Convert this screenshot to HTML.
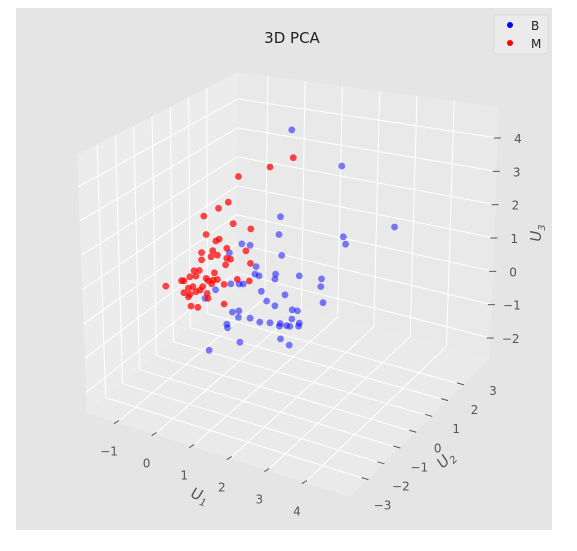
<!DOCTYPE html>
<html><head><meta charset="utf-8"><style>
body{margin:0;background:#fff;}
svg{display:block;font-family:"DejaVu Sans","Liberation Sans",sans-serif;}
</style></head><body>
<svg id="chart" width="577" height="551" viewBox="0 0 577 551">
<rect x="16" y="8" width="536" height="522" fill="#e5e5e5"/>
<g id="panes"></g><g id="grid"></g><g id="ticks"></g><g id="pts"></g>
<text x="292" y="43" text-anchor="middle" font-size="15" fill="#222">3D PCA</text>
<g>
<rect x="494" y="15" width="54" height="39" rx="2" fill="#ebebeb" stroke="#d9d9d9"/>
<circle cx="510" cy="25" r="3" fill="#0000ff"/>
<text x="531" y="30" font-size="12" fill="#222">B</text>
<circle cx="510" cy="43" r="3" fill="#ff0000"/>
<text x="531" y="48" font-size="12" fill="#222">M</text>
</g>
<text transform="translate(198,500) rotate(20)" text-anchor="middle" font-size="15" font-style="italic" fill="#555">U<tspan font-size="10" dy="4">1</tspan></text>
<text transform="translate(449,463) rotate(-45)" text-anchor="middle" font-size="15" font-style="italic" fill="#555">U<tspan font-size="10" dy="4">2</tspan></text>
<text transform="translate(541,233) rotate(-90)" text-anchor="middle" font-size="15" font-style="italic" fill="#555">U<tspan font-size="10" dy="4">3</tspan></text>
</svg>
<script>
const u1Ticks=[-1,0,1,2,3,4];
const u2Ticks=[-3,-2,-1,0,1,2,3];
const u3Ticks=[-2,-1,0,1,2,3,4];
const bU1=[1.83,3.16,4.56,3.20,3.26,1.53,1.49,1.56,0.50,0.72,0.17,0.88,0.85,0.96,1.38,2.03,2.62,2.60,2.66,1.40,1.02,1.65,1.16,1.38,1.84,1.98,1.83,2.03,1.52,1.50,1.69,1.78,2.01,1.25,0.98,0.72,0.41,0.42,0.25,0.10,0.12,0.45,-0.37,1.53,1.76,-0.48,0.21,0.43,0.54,-0.20];
const bU2=bU1.map(()=>0);
const bU3=[5.31,4.72,3.41,2.61,2.41,2.59,2.04,1.44,1.39,1.43,1.00,0.85,0.61,0.60,0.66,1.00,1.13,0.89,0.43,0.82,0.16,0.29,-0.08,-0.14,-0.09,-0.07,-0.37,-0.42,-0.62,-0.71,-0.62,-0.61,-0.52,-0.70,-0.78,-0.76,-0.85,-0.65,-0.75,-1.17,-1.27,-1.58,-2.13,-1.08,-1.18,-0.61,0.08,0.16,0.20,-0.25];
const mU1=[1.25,1.87,0.41,0.14,-0.12,-0.51,0.27,0.74,-0.45,-0.19,-0.10,0.61,0.10,-0.57,-0.27,-0.15,-0.32,-0.57,0.10,0.20,0.07,0.73,-0.63,-0.77,-0.88,-0.72,-0.23,-0.45,-0.39,-0.26,-0.15,-0.30,0.03,0.38,0.70,-1.52,-1.10,-1.04,-0.92,-1.04,-0.88,-0.72,-0.61,-0.54,-0.42,-0.40,-0.85,-0.67,0.03,-0.92,-0.80];
const mU2=mU1.map(()=>0);
const mU3=[3.98,4.49,3.38,2.51,2.23,1.85,1.91,1.93,1.32,1.22,1.31,1.22,1.11,0.73,0.90,0.81,0.70,0.51,0.81,0.82,0.60,0.89,0.17,0.11,-0.11,-0.03,0.25,0.00,-0.05,0.02,0.08,-0.11,0.00,0.28,0.35,-0.63,-0.31,-0.29,-0.47,-0.65,-0.64,-0.50,-0.41,-0.28,-0.44,-0.58,-0.98,-0.95,-0.59,-0.73,-0.38];

const R1=[-1.8,5.2],R2=[-4.1,4.7],R3=[-2.6,4.93];
const A0=[87,413],B0=[350,497],C0=[490,358],D0=[236,290];
const A1=[77,155],B1=[352,240],C1=[499,107],D1=[238,72];
const NS='http://www.w3.org/2000/svg';
function lerp(p,q,t){return [p[0]+(q[0]-p[0])*t,p[1]+(q[1]-p[1])*t];}
function proj(u1,u2,u3){
  const a=(u1-R1[0])/(R1[1]-R1[0]),b=(u2-R2[0])/(R2[1]-R2[0]),c=(u3-R3[0])/(R3[1]-R3[0]);
  const bot=lerp(lerp(A0,B0,a),lerp(D0,C0,a),b);
  const top=lerp(lerp(A1,B1,a),lerp(D1,C1,a),b);
  return lerp(bot,top,c);
}
function projPt(u1,u2,u3){return [223+37.6*u1+15.8*u2, 284+12.4*u1-15.8*u2-33.3*u3];}
function el(tag,attrs,parent){const e=document.createElementNS(NS,tag);for(const k in attrs)e.setAttribute(k,attrs[k]);parent.appendChild(e);return e;}
const panes=document.getElementById('panes'),grid=document.getElementById('grid'),ticks=document.getElementById('ticks'),pts=document.getElementById('pts');
function poly(ps){return ps.map(p=>p.join(',')).join(' ');}
let e;
e=el('polygon',{points:poly([A0,D0,D1,A1]),fill:'#ececec'},panes);


e=el('polygon',{points:poly([D0,C0,C1,D1]),fill:'#e9e9e9'},panes);


e=el('polygon',{points:poly([A0,B0,C0,D0]),fill:'#eaeaea'},panes);


function line(p,q,parent,stroke,w,name){const l=el('line',{x1:p[0],y1:p[1],x2:q[0],y2:q[1],stroke:stroke,'stroke-width':w},parent);

return l;}
u2Ticks.forEach(v=>{line(proj(R1[0],v,R3[0]),proj(R1[0],v,R3[1]),grid,'#fff',1,'grid-left-u2');line(proj(R1[0],v,R3[0]),proj(R1[1],v,R3[0]),grid,'#fff',1,'grid-floor-u2');});
u3Ticks.forEach(v=>{line(proj(R1[0],R2[0],v),proj(R1[0],R2[1],v),grid,'#fff',1,'grid-left-u3');line(proj(R1[0],R2[1],v),proj(R1[1],R2[1],v),grid,'#fff',1,'grid-back-u3');});
u1Ticks.forEach(v=>{line(proj(v,R2[1],R3[0]),proj(v,R2[1],R3[1]),grid,'#fff',1,'grid-back-u1');line(proj(v,R2[0],R3[0]),proj(v,R2[1],R3[0]),grid,'#fff',1,'grid-floor-u1');});
function label(x,y,t,name){const tx=el('text',{x:x,y:y,'text-anchor':'middle','font-size':12,fill:'#555'},ticks);tx.textContent=String(t).replace('-','\u2212');

}
u1Ticks.forEach(v=>{const p=proj(v,R2[0],R3[0]);line([p[0]-3,p[1]+1],[p[0]+2,p[1]-2],ticks,'#555',1,'u1-tick');label(p[0]-8,p[1]+33,v,'u1-tick-label');});
u2Ticks.forEach(v=>{const p=proj(R1[1],v,R3[0]);line([p[0]-6,p[1]-2],[p[0]+1,p[1]],ticks,'#555',1,'u2-tick');label(p[0]+15+(v+3)*2.5,p[1]+30-(v+3)*3.3,v,'u2-tick-label');});
u3Ticks.forEach(v=>{const p=proj(R1[1],R2[1],v);line([p[0]-4,p[1]],[p[0]+3,p[1]],ticks,'#555',1,'u3-tick');label(p[0]+20,p[1]+5,v,'u3-tick-label');});
function scatter(U1,U2,U3,color,op,name){for(let i=0;i<U1.length;i++){const p=projPt(U1[i],U2[i],U3[i]);
const c=el('circle',{cx:p[0].toFixed(1),cy:p[1].toFixed(1),r:3.4,fill:color,'fill-opacity':op},pts);

}}
scatter(bU1,bU2,bU3,'#0000ff',0.5,'point-b');
scatter(mU1,mU2,mU3,'#ff0000',0.72,'point-m');
</script>
</body></html>
